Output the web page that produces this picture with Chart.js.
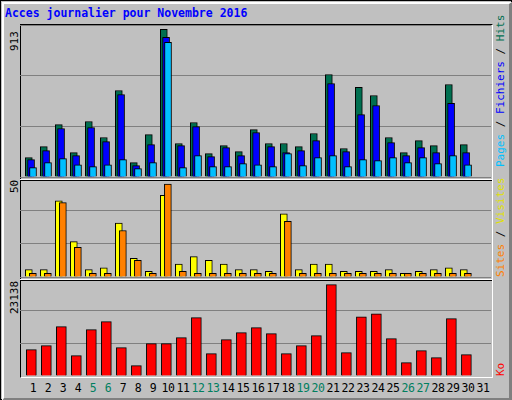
<!DOCTYPE html>
<html>
<head>
<meta charset="utf-8">
<script src="https://cdn.jsdelivr.net/npm/chart.js@4.4.0/dist/chart.umd.min.js"></script>
<style>
body { margin:0; background:#fff; }
#frame { position:absolute; left:0; top:0; width:510px; height:398px; background:#c0c0c0;
  border-top:1px solid #000; border-left:1px solid #000; border-right:1px solid #000; border-bottom:1px solid #000; }
#bevel { position:absolute; left:1px; top:1px; width:505px; height:394px; border-top:2px solid #fff; border-left:2px solid #fff;
  border-right:3px solid #808080; border-bottom:3px solid #808080; }
#plot { position:absolute; left:20px; top:24px; width:471px; height:352px; border-top:1px solid #000; border-left:1px solid #000;
  border-right:1px solid #fff; border-bottom:1px solid #fff; }
.sep { position:absolute; left:20px; width:472px; height:1px; background:#fff; border-bottom:1px solid #000; }
canvas { position:absolute; }
.t { position:absolute; font-family:"DejaVu Sans Mono", monospace; font-size:11px; white-space:nowrap; }
.rot { transform-origin:0 0; transform:rotate(-90deg); }
</style>
</head>
<body>
<div id="frame"><div id="bevel"></div></div>
<div id="plot"></div>
<div class="sep" style="top:179px"></div>
<div class="sep" style="top:279px"></div>
<div class="t" style="left:5px;top:6px;color:#0000ff;font-weight:bold;font-size:11.5px">Acces journalier pour Novembre 2016</div>
<div class="t rot" style="left:8px;top:51px;">913</div>
<div class="t rot" style="left:8px;top:193px;">50</div>
<div class="t rot" style="left:8px;top:314px;">23138</div>
<div class="t rot" style="left:494px;top:167px;"><span style="color:#00c0ff">Pages</span> / <span style="color:#0000ff">Fichiers</span> / <span style="color:#006f50">Hits</span></div>
<div class="t rot" style="left:494px;top:277px;"><span style="color:#ff8000">Sites</span> / <span style="color:#e0e000">Visites</span></div>
<div class="t rot" style="left:494px;top:376px;color:#ff0000">Ko</div>
<div id="labels"></div>
<canvas id="c1" style="left:20px;top:25px;width:471px;height:152px"></canvas>
<canvas id="c2" style="left:20px;top:177px;width:471px;height:100px"></canvas>
<canvas id="c3" style="left:20px;top:277px;width:471px;height:99px"></canvas>
<script>
const days = ['1','2','3','4','5','6','7','8','9','10','11','12','13','14','15','16','17','18','19','20','21','22','23','24','25','26','27','28','29','30','31'];
const weekend = [5,6,12,13,19,20,26,27];
const hits = [120,188,324,151,343,244,535,89,262,913,207,337,145,194,157,293,207,207,188,269,634,176,554,504,244,151,225,194,572,200,null];
const files = [107,163,300,132,306,219,510,70,200,864,194,312,126,182,132,275,188,151,163,225,578,157,386,442,213,132,182,151,455,151,null];
const pages = [58,89,114,76,64,76,107,52,89,833,58,132,64,64,83,76,64,145,70,120,132,64,107,101,120,89,120,83,132,76,null];
const visits = [4,4,41,19,4,5,29,10,3,44,7,11,9,7,4,4,3,34,4,7,7,3,3,3,4,2,3,4,5,4,null];
const sites = [2,2,40,16,2,2,25,9,2,50,3,2,2,2,2,2,2,30,2,2,2,2,2,2,2,2,2,2,2,2,null];
const ko = [6670,7680,12490,5150,11730,13760,7170,2620,8190,8190,9710,14770,5650,9200,10970,12240,10720,5650,7680,10210,23138,5910,15020,15780,9450,3380,6410,4640,14520,5400,null];

const xMin = 0.133, xMax = 31.53;

function pts(arr, off) {
  return arr.map((v, i) => ({ x: i + 1 + off, y: v }));
}
function ds(arr, off, color, w, order) {
  return { data: pts(arr, off), backgroundColor: color, borderColor: '#000', borderWidth: 1,
    borderSkipped: 'bottom', barThickness: w, order: order, grouped: false };
}
function panel(id, datasets, max) {
  new Chart(document.getElementById(id), {
    type: 'bar',
    data: { datasets: datasets },
    options: {
      responsive: false, animation: false,
      layout: { padding: 0 },
      plugins: { legend: { display: false }, tooltip: { enabled: false } },
      scales: {
        x: { type: 'linear', min: xMin, max: xMax, offset: false, display: false },
        y: { min: 0, max: max, afterFit: s => { s.width = 0; },
          ticks: { display: false, stepSize: max / 3 },
          border: { display: false },
          grid: { color: '#808080', drawTicks: false, lineWidth: 1 } }
      }
    }
  });
}
for (const id of ['c1','c2','c3']) {
  const c = document.getElementById(id);
  c.width = parseInt(c.style.width); c.height = parseInt(c.style.height);
}
panel('c1', [
  ds(hits, -0.28, '#006f50', 7, 3),
  ds(files, -0.13, '#0000ff', 7, 2),
  ds(pages, 0, '#00bfff', 7, 1)
], 940);
panel('c2', [
  ds(visits, -0.28, '#ffff00', 7, 2),
  ds(sites, -0.01, '#ff8000', 7, 1)
], 53.8);
panel('c3', [
  ds(ko, -0.11, '#ff0000', 10, 1)
], 25080);

const lab = document.getElementById('labels');
days.forEach((d, i) => {
  const s = document.createElement('div');
  s.className = 't';
  s.textContent = d;
  s.style.fontSize = '11.5px';
  s.style.top = '381px';
  s.style.width = '20px';
  s.style.textAlign = 'center';
  s.style.letterSpacing = '-0.5px';
  s.style.left = (20 + (i + 1 - xMin) * 471 / (xMax - xMin) - 10) + 'px';
  s.style.color = weekend.includes(+d) ? '#007f5f' : '#000';
  lab.appendChild(s);
});
</script>
</body>
</html>
